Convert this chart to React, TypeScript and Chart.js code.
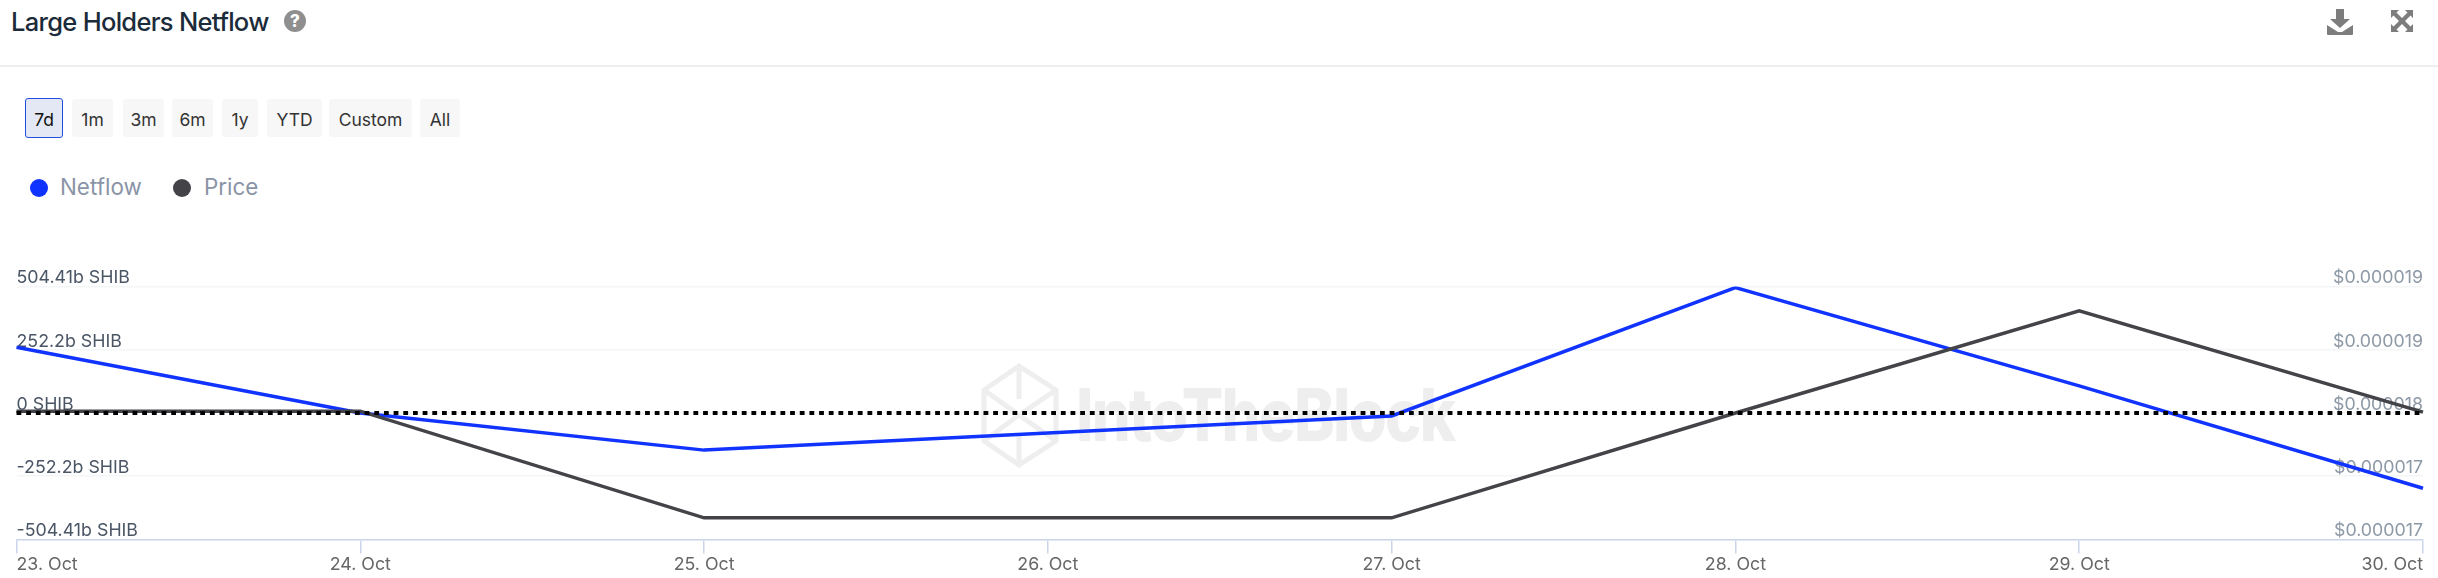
import React, { useEffect, useRef } from "react";
import { Chart, registerables } from "chart.js";

Chart.register(...registerables);

const categories = ["23. Oct", "24. Oct", "25. Oct", "26. Oct", "27. Oct", "28. Oct", "29. Oct", "30. Oct"];
const netflow = [262, 0, -148, -80, -12, 500, 108, -300];
const price = [0.00001802, 0.00001802, 0.00001684, 0.00001684, 0.00001684, 0.000018, 0.00001913, 0.00001801];
const zeroLine = [0, 0, 0, 0, 0, 0, 0, 0];
const netflowTicks = [-504.41, -252.2, 0, 252.2, 504.41];
const netflowTickLabels = ["-504.41b SHIB", "-252.2b SHIB", "0 SHIB", "252.2b SHIB", "504.41b SHIB"];
const priceTicks = [0.0000166, 0.0000173, 0.000018, 0.0000187, 0.0000194];
const ranges = ["7d", "1m", "3m", "6m", "1y", "YTD", "Custom", "All"];
const rangeLefts = [25, 72, 123, 172, 222, 267, 329, 420];
const rangeWidths = [38, 41, 41, 41, 36, 55, 83, 40];

const FONT = "Inter, 'Noto Sans', sans-serif";

export default function App() {
  const ref = useRef<HTMLCanvasElement>(null);
  useEffect(() => {
    const chart = new Chart(ref.current!, {
      type: "line",
      data: {
        labels: categories,
        datasets: [
          { label: "Zero", data: zeroLine, yAxisID: "y", borderColor: "#000", borderWidth: 4, borderDash: [4.8, 4.87], pointRadius: 0, order: 0 },
          { label: "Price", data: price, yAxisID: "y1", borderColor: "#434348", borderWidth: 3.5, pointRadius: 0, tension: 0, order: 1 },
          { label: "Netflow", data: netflow, yAxisID: "y", borderColor: "#1033ff", borderWidth: 3.5, pointRadius: 0, tension: 0, order: 2 },
        ],
      },
      options: {
        animation: false,
        responsive: false,
        devicePixelRatio: 1,
        layout: { padding: { left: 16.5, right: 15, top: 286.5, bottom: 0 } },
        plugins: { legend: { display: false }, tooltip: { enabled: false } },
        scales: {
          x: {
            grid: { drawOnChartArea: false, drawTicks: true, tickLength: 14, color: "#ccd6eb", tickColor: "#ccd6eb", lineWidth: 1.5 },
            border: { color: "#ccd6eb", width: 1.5 },
            ticks: { color: "#666", font: { family: FONT, size: 17.8 }, align: "inner", maxRotation: 0, autoSkip: false, padding: 0 },
            afterFit: (s: any) => { s.height = 38.5; },
          },
          y: {
            position: "left",
            min: -504.41,
            max: 504.41,
            afterBuildTicks: (s: any) => { s.ticks = netflowTicks.map((value) => ({ value })); },
            afterFit: (s: any) => { s.width = 0; },
            grid: { color: "#f3f5f6", lineWidth: 1.5, drawTicks: false },
            border: { display: false },
            ticks: {
              mirror: true, padding: 0, labelOffset: -8.5, color: "#4a5565", autoSkip: false,
              font: { family: FONT, size: 17.8 },
              textStrokeColor: "#fff", textStrokeWidth: 2,
              callback: (_v: any, i: number) => netflowTickLabels[i],
            },
          },
          y1: {
            position: "right",
            z: 1,
            min: priceTicks[0],
            max: priceTicks[4],
            afterBuildTicks: (s: any) => { s.ticks = priceTicks.map((value) => ({ value })); },
            afterFit: (s: any) => { s.width = 0; },
            grid: { drawOnChartArea: false, drawTicks: false },
            border: { display: false },
            ticks: {
              mirror: true, padding: 0, labelOffset: -8.5, color: "#8d99a6", autoSkip: false,
              font: { family: FONT, size: 17.8 },
              textStrokeColor: "#fff", textStrokeWidth: 2,
              callback: (v: any) => "$" + Number(v).toFixed(6),
            },
          },
        },
      },
    });
    return () => chart.destroy();
  }, []);

  return (
    <div style={{ position: "fixed", left: 0, top: 0, width: 2438, height: 578, background: "#fff", overflow: "hidden", fontFamily: FONT }}>
      <div style={{ position: "absolute", left: 11, top: 5, fontSize: 25.5, lineHeight: "34px", fontWeight: 500, color: "#1c2b3a", letterSpacing: -0.7 }}>Large Holders Netflow</div>
      <div style={{ position: "absolute", left: 284, top: 10, width: 22, height: 22, borderRadius: 11, background: "#8f8f8f", color: "#fff", fontSize: 17, fontWeight: 800, lineHeight: "22px", textAlign: "center" }}>?</div>

      <svg style={{ position: "absolute", left: 2325, top: 8 }} width="30" height="28" viewBox="0 0 30 28">
        <path d="M11 1h8v10h6L15 20 5 11h6z" fill="#7d7d7d" />
        <path d="M2 17l11 7h4l11-7v9a1 1 0 0 1-1 1H3a1 1 0 0 1-1-1z" fill="#7d7d7d" />
      </svg>
      <svg style={{ position: "absolute", left: 2390, top: 9 }} width="24" height="24" viewBox="0 0 24 24">
        <path d="M1 1h8L6.500 3.500 12 9l5.500-5.500L15 1h8v8l-2.500-2.500L15 12l5.500 5.500L23 15v8h-8l2.500-2.500L12 15l-5.500 5.500L9 23H1v-8l2.500 2.500L9 12 3.500 6.500 1 9z" fill="#7d7d7d" />
      </svg>

      <div style={{ position: "absolute", left: 0, top: 65, width: 2438, height: 2, background: "#eeeeee" }} />

      {ranges.map((r, i) => (
        <div key={r} style={{
          position: "absolute", left: rangeLefts[i], top: i === 0 ? 98 : 99, width: rangeWidths[i], height: i === 0 ? 40 : 38, boxSizing: "border-box",
          borderRadius: 3, background: i === 0 ? "#e4e8f4" : "#f7f7f7", border: i === 0 ? "1.5px solid #1f4fe0" : "none",
          fontSize: 17.5, lineHeight: i === 0 ? "41px" : "42px", textAlign: "center", color: i === 0 ? "#111" : "#333",
        }}>{r}</div>
      ))}

      <div style={{ position: "absolute", left: 30, top: 179, width: 18, height: 18, borderRadius: 9, background: "#1033ff" }} />
      <div style={{ position: "absolute", left: 60, top: 172, fontSize: 22.4, lineHeight: "30px", color: "#8a94a6" }}>Netflow</div>
      <div style={{ position: "absolute", left: 173, top: 179, width: 18, height: 18, borderRadius: 9, background: "#434348" }} />
      <div style={{ position: "absolute", left: 204, top: 172, fontSize: 22.4, lineHeight: "30px", color: "#8a94a6" }}>Price</div>

      <svg style={{ position: "absolute", left: 981, top: 363 }} width="78" height="105" viewBox="0 0 78 105" fill="none" stroke="#eeeeee" strokeWidth="5">
        <path d="M38 3L75 27V78L38 102L3 78V27z" />
        <path d="M38 3V36M3 27L38 52L75 27M3 78L38 52L75 78M38 70V102" />
      </svg>
      <div style={{ position: "absolute", left: 1076, top: 376, fontSize: 73, lineHeight: "78px", fontWeight: 800, color: "#eeeeee", letterSpacing: -2, whiteSpace: "nowrap", transform: "scaleX(0.84)", transformOrigin: "left center" }}>IntoTheBlock</div>

      <canvas ref={ref} width={2438} height={578} style={{ position: "absolute", left: 0, top: 0, width: 2438, height: 578 }} />
    </div>
  );
}
